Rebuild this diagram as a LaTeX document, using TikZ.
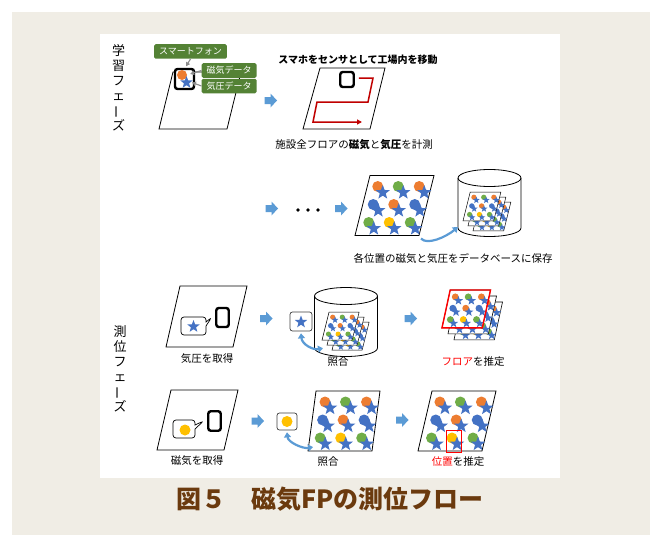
\documentclass[tikz,border=0pt]{standalone}
\usepackage{fontspec}
\setmainfont{Noto Sans CJK JP}
\usetikzlibrary{shapes.geometric, shapes.callouts, arrows.meta, calc, positioning}

\definecolor{fpbeige}{HTML}{F0EDE5}
\definecolor{fpbrown}{HTML}{6B3A0E}
\definecolor{fplabel}{HTML}{548235}
\definecolor{fporange}{HTML}{ED7D31}
\definecolor{fpgreen}{HTML}{70AD47}
\definecolor{fpblue}{HTML}{4472C4}
\definecolor{fpgold}{HTML}{FFC000}
\definecolor{fpsky}{HTML}{5B9BD5}
\definecolor{fpred}{HTML}{FF0000}
\definecolor{fproute}{HTML}{C00000}
\definecolor{fpgray}{HTML}{8C8C8C}
\definecolor{fpdark}{HTML}{404040}

% long vowel mark set upright in vertical text
\newcommand\vbar{\rotatebox[origin=c]{90}{ー}}

% one floor sheet: 3x3 magnetic dots with a pressure star each
\tikzset{
  pics/fpsheet/.style={code={
    \filldraw[fill=white] (#1,0) coordinate (-tl) -- (64+#1,0) coordinate (-tr)
      -- (64,60) coordinate (-br) -- (0,60) coordinate (-bl) -- cycle;
    \foreach \yy/\dx/\cl [count=\k] in {11/10.5/fporange, 11/31/fpgreen, 11/52/fporange,
                                        29/10.5/fpblue, 29/31/fporange, 29/52/fpblue,
                                        47/10.5/fpgreen, 47/31/fpgold, 47/52/fpgreen}{
      \pgfmathsetmacro\xl{#1*(1-\yy/60)}
      \fill[fill=\cl] (\xl+\dx,\yy) circle[radius=5.5pt];
      \node[fpstar] (-st\k) at (\xl+\dx+5,\yy+6) {};
    }
  }},
  % database drum, #1 = height
  pics/dbcyl/.style={code={
    \filldraw[fill=white, line width=0.8pt] (-31.5,0) -- (-31.5,#1)
      arc[start angle=180, end angle=360, x radius=31.5pt, y radius=8.5pt]
      -- (31.5,0)
      arc[start angle=0, end angle=180, x radius=31.5pt, y radius=8.5pt] -- cycle;
    \draw[line width=0.8pt] (-31.5,0)
      arc[start angle=180, end angle=360, x radius=31.5pt, y radius=8.5pt];
    \coordinate (-left) at (-31.5,#1);
  }},
  % fat step arrow between stages
  pics/steparrow/.style={code={
    \fill[fpsky] (-6,-3.5) -- (0,-3.5) -- (0,-7) -- (6.5,0) -- (0,7) -- (0,3.5) -- (-6,3.5) -- cycle;
  }}
}

\begin{document}
\begin{tikzpicture}[x=1pt, y=-1pt,
  every node/.style={font=\fontsize{10}{12}\selectfont},
  lbl/.style={fill=fplabel, text=white, rounded corners=1.5pt, inner xsep=5pt,
              inner ysep=0pt, minimum height=14.5pt, font=\fontsize{9}{10}\selectfont},
  phone/.style={draw, line width=2.4pt, rounded corners=2.5pt, inner sep=0pt, fill=white},
  fpstar/.style={star, star points=5, star point ratio=2.4, fill=fpblue,
                 inner sep=0pt, minimum size=15pt, transform shape},
  fpdot/.style={circle, inner sep=0pt, minimum size=11pt},
  bubble/.style={rectangle callout, draw, fill=white, rounded corners=3pt,
                 line width=0.7pt, inner sep=0pt, callout pointer width=4pt},
  pickbox/.style={draw=fpdark, fill=white, rounded corners=2.5pt, line width=0.7pt, inner sep=0pt},
  floor/.style={draw, fill=white, line width=0.8pt},
  lblarrow/.style={draw=fpgray, line width=1.1pt, -{Triangle[length=4pt,width=4.5pt]}},
  flowarc/.style={draw=fpsky, line width=2.2pt, -{Triangle[length=5pt,width=7pt]}},
  flowarcs/.style={draw=fpsky, line width=2.2pt,
                   arrows={Triangle[length=5pt,width=7pt]-Triangle[length=5pt,width=7pt]}},
  caption/.style={font=\fontsize{10.5}{12}\selectfont},
  phase/.style={align=center, font=\fontsize{13}{15}\selectfont},
]
\useasboundingbox (0,0) rectangle (650,535);
\fill[fpbeige] (12,12) rectangle (650,535);
\fill[white] (100,34) rectangle (560,478);

% ---- phase labels ----
\node[phase] (learn) at (118.5,87.5) {学\\習\\フ\\ェ\\\vbar\\ズ};
\node[phase] (locate) at (120,368.5) {測\\位\\フ\\ェ\\\vbar\\ズ};

% ---- learning: smartphone as sensor ----
\draw[floor] (173,72) -- (241,72) -- (227,129) -- (159,129) -- cycle;
\node[phone, minimum width=19pt, minimum height=20pt] (phone1) at (184.5,79) {};
\node[fpdot, fill=fporange, minimum size=10pt] (magdot) at (182,75) {};
\node[fpstar, minimum size=13pt] (pressstar) at (186.5,82.5) {};
\node[lbl] (lblphone) at (190.5,51.5) {スマートフォン};
\node[lbl, anchor=west] (lblmag) at (201.5,70.5) {磁気データ};
\node[lbl, anchor=west] (lblpress) at (201.5,86) {気圧データ};
\draw[lblarrow] (lblphone.south) -- ($(phone1.north)+(1.5,-1.5)$);
\draw[lblarrow] (lblmag.west) -- ($(magdot.east)+(3,-1)$);
\draw[lblarrow] (lblpress.west) -- ($(pressstar.east)+(1.5,0)$);

\pic at (270.5,100.5) {steparrow};

% walking route over the floor
\draw[floor] (320,68) -- (385,68) -- (370,129) -- (303,129) -- cycle;
\node[phone, minimum width=13.5pt, minimum height=15pt] (phone2) at (347,79.5) {};
\draw[fproute, line width=1.5pt, -{Triangle[length=5pt,width=5pt]}]
  (phone2.east) ++(4,-1.5) -- (373,78) -- (368,102) -- (317,102) -- (313,122) -- (362,122);
\node[font=\bfseries\fontsize{10}{12}\selectfont] (walk) at (358,60) {スマホをセンサとして工場内を移動};
\node[caption] (measure) at (354,145) {施設全フロアの\textbf{磁気}と\textbf{気圧}を計測};

% ---- learning: store every floor ----
\pic at (271.5,208.5) {steparrow};
\foreach \k in {0,1,2}
  \fill (298+10*\k,210) circle[radius=1.8pt];
\pic at (341,208.5) {steparrow};

\pic[line width=0.8pt] (grid1) at (355,175.5) {fpsheet=15};
\pic (db1) at (489.5,178) {dbcyl=50};
\foreach \k in {2,1,0}
  \pic[scale=0.48, line width=0.5pt] (db1s\k) at (463+5*\k,192+5*\k) {fpsheet=15};
\draw[flowarc] ($(grid1-br)+(2,3)$) .. controls +(6,7) and +(-12,10) .. ($(db1-left)+(0,-1)$);
\node[caption] (store) at (453,258) {各位置の磁気と気圧をデータベースに保存};

% ---- locating: pressure -> floor ----
\draw[floor] (180,286) -- (247,286) -- (233,347) -- (166,347) -- cycle;
\node[phone, minimum width=12.5pt, minimum height=19pt] (phone3) at (222.5,317.5) {};
\node[bubble, minimum width=25pt, minimum height=18pt,
      callout absolute pointer={($(phone3.west)+(-3.5,0)$)}] (bub3) at (193.5,326) {};
\node[fpstar, minimum size=13pt] (bubstar3) at (193.5,326.5) {};
\node[caption] (getpress) at (207,359) {気圧を取得};

\pic at (266,318.5) {steparrow};

\pic (db2) at (346,296) {dbcyl=52};
\foreach \k in {2,1,0}
  \pic[scale=0.47, line width=0.5pt] (db2s\k) at (322+5*\k,312+5*\k) {fpsheet=15};
\node[pickbox, minimum width=22pt, minimum height=19pt] (pick3) at (301,321.5) {};
\node[fpstar, minimum size=13pt] (pickstar3) at (301,322) {};
\draw[flowarcs] ($(pick3.south)+(0,2)$) .. controls +(1,11) and +(-10,2) .. ($(db2s0-bl)+(1,8)$);
\node[caption] (match3) at (338,362) {照合};

\pic at (410.5,318.5) {steparrow};

\foreach \k in {2,1,0}
  \pic[scale=0.63, line width=0.6pt] (fl\k) at (442+6*\k,290+6*\k) {fpsheet=13};
\draw[fpred, line width=1.4pt] (fl0-tl) -- (fl0-tr) -- (fl0-br) -- (fl0-bl) -- cycle;
\node[caption] (estfloor) at (473,362) {\textcolor{fpred}{フロア}を推定};

% ---- locating: magnetism -> position ----
\draw[floor] (171,390) -- (238,390) -- (224,450) -- (157,450) -- cycle;
\node[phone, minimum width=12.5pt, minimum height=19.5pt] (phone4) at (214.5,421) {};
\node[bubble, minimum width=22pt, minimum height=18pt,
      callout absolute pointer={($(phone4.west)+(-3.5,0)$)}] (bub4) at (184,429) {};
\node[fpdot, fill=fpgold] (bubdot4) at (185,430) {};
\node[caption] (getmag) at (197,461) {磁気を取得};

\pic at (257.5,421) {steparrow};

\node[pickbox, minimum width=20pt, minimum height=17pt] (pick4) at (287,421.5) {};
\node[fpdot, fill=fpgold] (pickdot4) at (287,421.5) {};
\pic[line width=0.8pt] (grid4) at (308,391) {fpsheet=8};
\draw[flowarcs] ($(pick4.south)+(0,2)$) .. controls +(1,10) and +(-10,2) .. ($(grid4-bl)+(5,-4)$);
\node[caption] (match4) at (328,462) {照合};

\pic at (402,420) {steparrow};

\pic[line width=0.8pt] (grid5) at (418,391) {fpsheet=14};
\node[draw=fpred, line width=1.4pt, minimum width=15pt, minimum height=22pt, inner sep=0pt] (hit) at (454,441.5) {};
\node[caption] (estpos) at (458,462) {\textcolor{fpred}{位置}を推定};

% ---- figure title ----
\node[font=\bfseries\fontsize{25}{28}\selectfont, text=fpbrown] (figtitle) at (330,499) {図５　磁気FPの測位フロー};
\end{tikzpicture}
\end{document}
